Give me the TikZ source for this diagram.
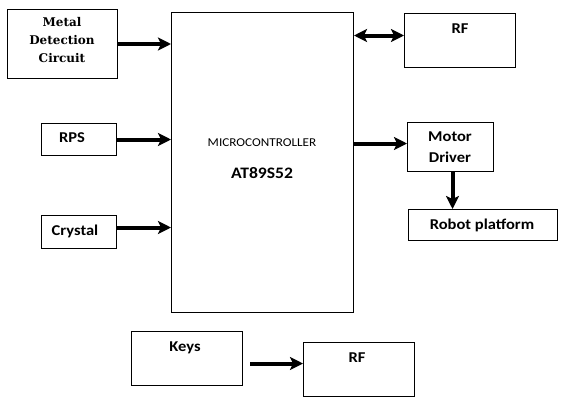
\documentclass[tikz,border=0pt]{standalone}
\usepackage{fontspec}
\setmainfont{Carlito}
\newfontfamily\bkfont{DejaVu Serif}
\usetikzlibrary{arrows.meta}
\newcommand\wideTxt[1]{\scalebox{1.1}[1]{#1}}
\begin{document}
\begin{tikzpicture}[x=1pt,y=-1pt,
  box/.style={draw,line width=1pt,rectangle,inner sep=0pt,anchor=north west},
  lbl/.style={font=\fontsize{15}{15}\selectfont\bfseries,inner sep=0pt,align=center},
  arr/.style={line width=4pt,-{Stealth[length=13pt,width=13pt,inset=3pt]}},
  darr/.style={line width=4pt,{Stealth[length=13pt,width=13pt,inset=3pt]}-{Stealth[length=13pt,width=13pt,inset=3pt]}}]
\useasboundingbox (0,0) rectangle (569,407);
% boxes
\node[box,minimum width=110pt,minimum height=69pt] (metal) at (7,9) {};
\node[box,minimum width=182pt,minimum height=300pt] (mcu) at (171,12) {};
\node[box,minimum width=111pt,minimum height=54pt] (rftop) at (404,13) {};
\node[box,minimum width=75pt,minimum height=32pt] (rps) at (41,123) {};
\node[box,minimum width=75pt,minimum height=33pt] (crystal) at (41,215) {};
\node[box,minimum width=86pt,minimum height=49pt] (motor) at (407,122) {};
\node[box,minimum width=149pt,minimum height=31pt] (robot) at (408,209) {};
\node[box,minimum width=111pt,minimum height=54pt] (keys) at (131,331) {};
\node[box,minimum width=111pt,minimum height=54pt] (rfbot) at (303,342) {};
% texts
\node[inner sep=0pt,align=center,font=\bkfont\fontsize{12}{18}\selectfont\bfseries] (metalt) at (62,40.5) {Metal\\Detection\\Circuit};
\node[inner sep=0pt,font=\fontsize{12}{12}\selectfont] (mcut) at (262,143) {\wideTxt{MICROCONTROLLER}};
\node[inner sep=0pt,font=\fontsize{16}{18}\selectfont\bfseries] (mcut2) at (262,173) {\wideTxt{AT89S52}};
\node[lbl] (rftopt) at (460,29) {\wideTxt{RF}};
\node[lbl] (rpst) at (72,138) {\wideTxt{RPS}};
\node[lbl] (crystalt) at (75,231) {\wideTxt{Crystal}};
\node[lbl,font=\fontsize{15}{21}\selectfont\bfseries] (motort) at (450,147) {\wideTxt{Motor}\\\wideTxt{Driver}};
\node[lbl] (robott) at (482,225) {\wideTxt{Robot platform}};
\node[lbl] (keyst) at (185,348) {\wideTxt{Keys}};
\node[lbl] (rfbott) at (357,358) {\wideTxt{RF}};
% connectors
\draw[arr] (metal.east) -- (metal.east -| mcu.west);
\draw[arr] (rps.east) -- (rps.east -| mcu.west);
\draw[arr] ([yshift=4.5pt]crystal.east) -- ([yshift=4.5pt]crystal.east -| mcu.west);
\draw[darr] ([yshift=5pt]rftop.west -| mcu.east) -- ([yshift=5pt]rftop.west);
\draw[arr] ([yshift=3.5pt]motor.west -| mcu.east) -- ([yshift=3.5pt]motor.west);
\draw[arr] ([xshift=2pt]motor.south) -- ([xshift=2pt]motor.south |- robot.north);
\draw[arr] ([xshift=7pt,yshift=-5pt]keys.east) -- ([yshift=-5pt]keys.east -| rfbot.west);
\end{tikzpicture}
\end{document}
